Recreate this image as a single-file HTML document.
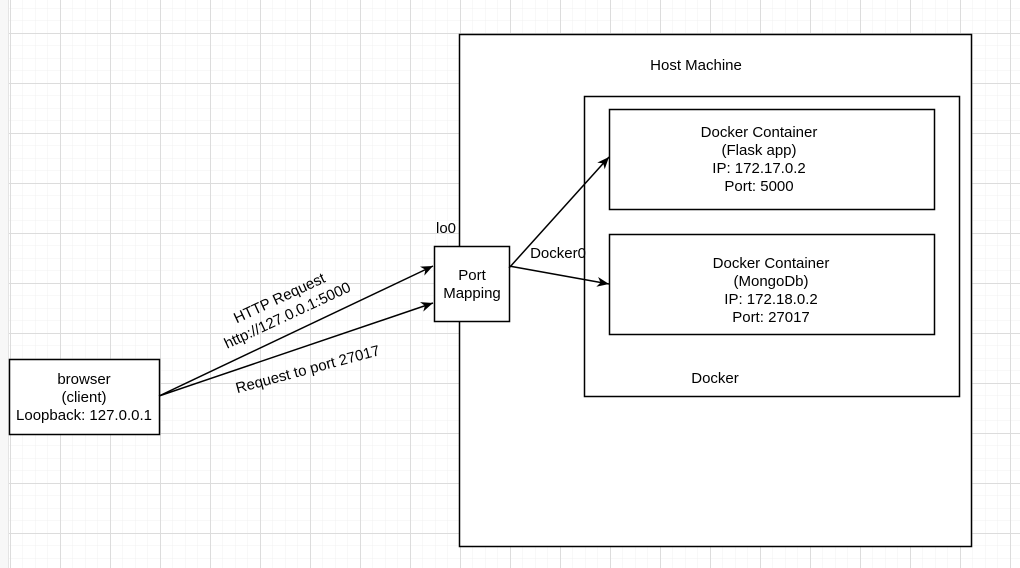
<!DOCTYPE html>
<html><head><style>
html,body{margin:0;padding:0;}
body{width:1020px;height:568px;overflow:hidden;background:#fff;font-family:"Liberation Sans",Arial,sans-serif;}
</style></head><body>
<svg width="1020" height="568" xmlns="http://www.w3.org/2000/svg" style="display:block">
<defs>
<pattern id="minor" x="10" y="33" width="12.5" height="12.5" patternUnits="userSpaceOnUse">
<path d="M0 0V12.5M0 0H12.5" stroke="#f0f0f0" stroke-width="1" fill="none"/>
</pattern>
<pattern id="major" x="10" y="33" width="50" height="50" patternUnits="userSpaceOnUse">
<path d="M0.5 0V50M0 0.5H50" stroke="#dcdcdc" stroke-width="1" fill="none"/>
</pattern>
<marker id="ar" markerWidth="14" markerHeight="12" refX="12" refY="6" orient="auto" markerUnits="userSpaceOnUse">
<path d="M0 1 L12 6 L0 11 L3.5 6 Z" fill="#000"/>
</marker>
</defs>
<rect x="0" y="0" width="1020" height="568" fill="#fff"/>
<rect x="9" y="0" width="1011" height="568" fill="url(#minor)"/>
<rect x="9" y="0" width="1011" height="568" fill="url(#major)"/>
<rect x="0" y="0" width="9" height="568" fill="#f7f7f7"/>
<rect x="8" y="0" width="1" height="568" fill="#e4e4e4"/>

<g font-size="15" fill="#000" text-anchor="middle">
<rect x="459.5" y="34.5" width="512" height="512" fill="#fff" stroke="#000" stroke-width="1.5"/>
<text x="696" y="70">Host Machine</text>
<rect x="584.5" y="96.5" width="375" height="300" fill="#fff" stroke="#000" stroke-width="1.5"/>
<text x="715" y="383">Docker</text>
<rect x="609.5" y="109.5" width="325" height="100" fill="#fff" stroke="#000" stroke-width="1.5"/>
<text x="759" y="137">Docker Container</text>
<text x="759" y="155">(Flask app)</text>
<text x="759" y="173">IP: 172.17.0.2</text>
<text x="759" y="191">Port: 5000</text>
<rect x="609.5" y="234.5" width="325" height="100" fill="#fff" stroke="#000" stroke-width="1.5"/>
<text x="771" y="268">Docker Container</text>
<text x="771" y="286">(MongoDb)</text>
<text x="771" y="304">IP: 172.18.0.2</text>
<text x="771" y="322">Port: 27017</text>
<rect x="434.5" y="246.5" width="75" height="75" fill="#fff" stroke="#000" stroke-width="1.5"/>
<text x="472" y="280">Port</text>
<text x="472" y="298">Mapping</text>
<text x="446" y="233">lo0</text>
<text x="558" y="258">Docker0</text>
<rect x="9.5" y="359.5" width="150" height="75" fill="#fff" stroke="#000" stroke-width="1.5"/>
<text x="84" y="384">browser</text>
<text x="84" y="402">(client)</text>
<text x="84" y="420">Loopback: 127.0.0.1</text>

<g stroke="#000" stroke-width="1.5" fill="none">
<line x1="159" y1="396" x2="433" y2="266" marker-end="url(#ar)"/>
<line x1="159" y1="396" x2="433" y2="303" marker-end="url(#ar)"/>
<line x1="509" y1="268" x2="609" y2="157" marker-end="url(#ar)"/>
<line x1="509" y1="266" x2="609" y2="284" marker-end="url(#ar)"/>
</g>
<g transform="translate(284,308) rotate(-25)">
<text x="0" y="-6">HTTP Request</text>
<text x="0" y="13">http://127.0.0.1:5000</text>
</g>
<text transform="translate(309,374) rotate(-15)" x="0" y="0">Request to port 27017</text>
</g>
</svg>
</body></html>
